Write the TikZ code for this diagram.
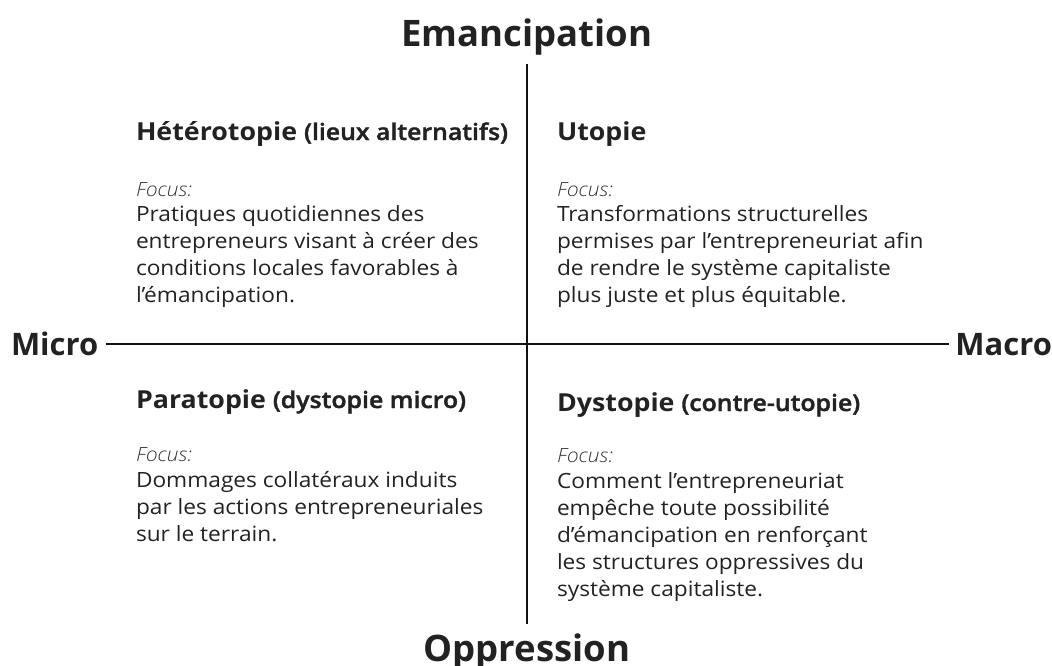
\documentclass[tikz,border=0pt]{standalone}
\usepackage{fontspec}
\setmainfont{Open Sans}
\newfontfamily\qfont{Open Sans}[FakeStretch=1.08]
\newfontfamily\qsemi{Open Sans Semibold}[FakeStretch=1.08,FakeBold=1.5]
\newfontfamily\qlight{Open Sans Light}[FakeStretch=1.08]
\definecolor{txt}{HTML}{222222}
\definecolor{foc}{HTML}{333333}
\definecolor{axis}{HTML}{111111}
\begin{document}
\begin{tikzpicture}[x=1pt,y=-1pt,
  every node/.style={inner sep=0pt,outer sep=0pt,text=txt},
  bigl/.style={font=\fontsize{36.5}{40}\selectfont\bfseries,anchor=base},
  sidel/.style={font=\fontsize{31}{36}\selectfont\bfseries},
  ttl/.style={font=\qfont\fontsize{24.8}{28}\selectfont\bfseries,anchor=base west},
  focusl/.style={font=\qlight\fontsize{19.5}{22}\selectfont\itshape,text=foc,anchor=base west},
  bodyl/.style={font=\qfont\fontsize{21}{27}\selectfont,anchor=base west},
  axisline/.style={draw=axis,line width=1.8pt}]
\newcommand\paren[1]{{\qsemi\mdseries\fontsize{23}{26}\selectfont #1}}
\useasboundingbox (0,0) rectangle (1052,666);
% axis labels
\node[bigl] (em) at (527,47) {Emancipation};
\node[bigl] (op) at (527,661) {Oppression};
\node[sidel,anchor=base west] (mi) at (11,355) {Micro};
\node[sidel,anchor=base east] (ma) at (1052,355) {Macro};
\coordinate (vt) at (527,64);
\coordinate (vb) at (527,624);
\coordinate (hl) at (106,344);
\coordinate (hr) at (949,344);
\draw[axisline,line width=1.4pt] (vt) -- (vb);
\draw[axisline] (hl) -- (hr);
% upper left
\node[ttl] (t1) at (136,140) {Hétérotopie \paren{(lieux alternatifs)}};
\node[focusl] (f1) at (136,196) {Focus:};
\node[bodyl] (b1a) at (136,221) {Pratiques quotidiennes des};
\node[bodyl] (b1b) at (136,248) {entrepreneurs visant à créer des};
\node[bodyl] (b1c) at (136,275) {conditions locales favorables à};
\node[bodyl] (b1d) at (136,302) {l’émancipation.};
% upper right
\node[ttl] (t2) at (557,140) {Utopie};
\node[focusl] (f2) at (557,196) {Focus:};
\node[bodyl] (b2a) at (557,221) {Transformations structurelles};
\node[bodyl] (b2b) at (557,248) {permises par l’entrepreneuriat afin};
\node[bodyl] (b2c) at (557,275) {de rendre le système capitaliste};
\node[bodyl] (b2d) at (557,302) {plus juste et plus équitable.};
% lower left
\node[ttl] (t3) at (136,408) {Paratopie \paren{(dystopie micro)}};
\node[focusl] (f3) at (136,461) {Focus:};
\node[bodyl] (b3a) at (136,487) {Dommages collatéraux induits};
\node[bodyl] (b3b) at (136,514) {par les actions entrepreneuriales};
\node[bodyl] (b3c) at (136,541) {sur le terrain.};
% lower right
\node[ttl] (t4) at (557,411) {Dystopie \paren{(contre-utopie)}};
\node[focusl] (f4) at (557,462) {Focus:};
\node[bodyl] (b4a) at (557,488) {Comment l’entrepreneuriat};
\node[bodyl] (b4b) at (557,515) {empêche toute possibilité};
\node[bodyl] (b4c) at (557,542) {d’émancipation en renforçant};
\node[bodyl] (b4d) at (557,569) {les structures oppressives du};
\node[bodyl] (b4e) at (557,596) {système capitaliste.};
\end{tikzpicture}
\end{document}
